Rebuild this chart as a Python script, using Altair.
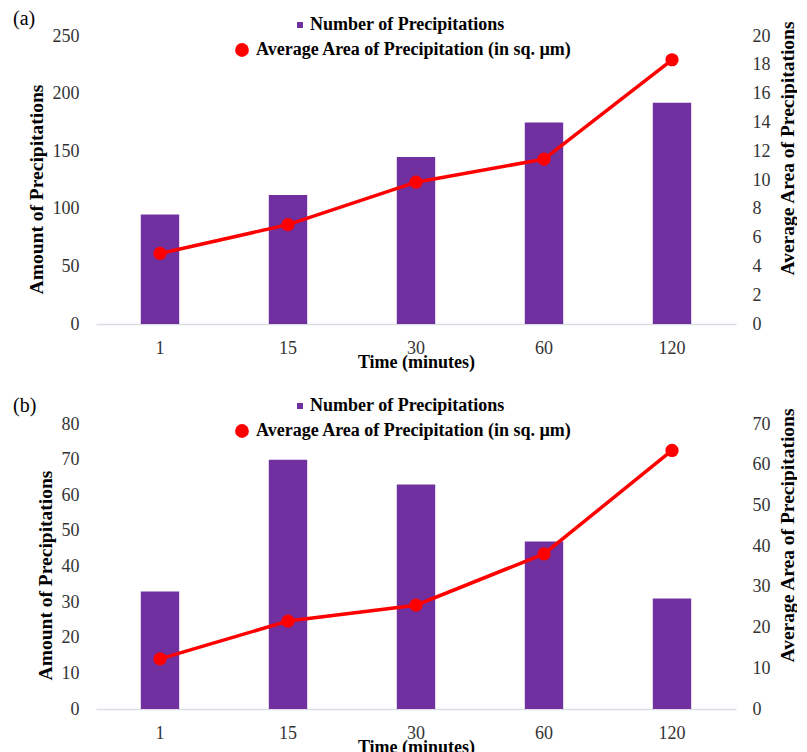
import altair as alt
import pandas as pd

times = ["1", "15", "30", "60", "120"]

count_a = [95, 112, 145, 175, 192]
area_a = [4.9, 6.9, 9.85, 11.45, 18.35]

count_b = [33, 70, 63, 47, 31]
area_b = [12.3, 21.6, 25.5, 38.1, 63.5]

bar_label = "Number of Precipitations"
line_label = "Average Area of Precipitation (in sq. \u00b5m)"

PURPLE = "#7030A0"
RED = "#FF0000"
FONT = "Liberation Serif"
W = 640


def panel(tag, counts, areas, ymax_l, step_l, ymax_r, step_r, h, leg1_y, leg2_y, tdy):
    df = pd.DataFrame({
        "time": times,
        "count": counts,
        "area": areas,
        "s1": [bar_label] * len(times),
        "s2": [line_label] * len(times),
    })
    xenc = alt.X(
        "time:N", sort=times,
        scale=alt.Scale(paddingInner=0.7, paddingOuter=0.35),
        axis=alt.Axis(
            title="Time (minutes)", labelAngle=0, labelPadding=15, ticks=False,
            domainColor="#D9DEE6", domainWidth=1.5, titleY=38, titleBaseline="middle",
            titleFontSize=18,
        ),
    )
    base = alt.Chart(df)
    bars = base.mark_bar().encode(
        x=xenc,
        y=alt.Y(
            "count:Q",
            scale=alt.Scale(domain=[0, ymax_l]),
            axis=alt.Axis(
                title="Amount of Precipitations", values=list(range(0, ymax_l + 1, step_l)),
                grid=False, domain=False, ticks=False, labelPadding=17, titlePadding=6,
                titleY=round(0.53 * h),
            ),
        ),
        color=alt.Color(
            "s1:N",
            scale=alt.Scale(domain=[bar_label], range=[PURPLE]),
            legend=alt.Legend(
                title=None, orient="none", legendX=195, legendY=leg1_y,
                symbolType="square", symbolSize=36, labelOffset=1, padding=0, labelLimit=500,
                labelFont=FONT, labelFontSize=18, labelFontWeight="bold", labelColor="#000000",
            ),
        ),
    )
    yr_axis = alt.Axis(
        title="Average Area of Precipitations", orient="right",
        values=[v for v in range(0, ymax_r + 1, step_r)],
        grid=False, domain=False, ticks=False, labelPadding=16, titlePadding=27,
        titleY=round(0.39 * h), titleAngle=270, titleAlign="center", titleLimit=400,
    )
    line = base.mark_line(color=RED, strokeWidth=3.5).encode(
        x=xenc,
        y=alt.Y("area:Q", scale=alt.Scale(domain=[0, ymax_r]), axis=yr_axis),
    )
    pts = base.mark_circle(size=175, opacity=1).encode(
        x=xenc,
        y=alt.Y("area:Q", scale=alt.Scale(domain=[0, ymax_r]), axis=yr_axis),
        color=alt.Color(
            "s2:N",
            scale=alt.Scale(domain=[line_label], range=[RED]),
            legend=alt.Legend(
                title=None, orient="none", legendX=137, legendY=leg2_y,
                symbolType="circle", symbolSize=190, labelOffset=5, padding=0, labelLimit=500,
                labelFont=FONT, labelFontSize=18, labelFontWeight="bold", labelColor="#000000",
            ),
        ),
    )
    right = alt.layer(line, pts)
    return alt.layer(bars, right).resolve_scale(y="independent", color="independent").properties(
        width=W, height=h,
        title=alt.TitleParams(
            tag, anchor="start", frame="group", dx=-83, dy=tdy, offset=3, font=FONT,
            fontSize=20, fontWeight="normal", color="#000000",
        ),
    )


pa = panel("(a)", count_a, area_a, 250, 50, 20, 2, 288, -20, 5, 16)
pb = panel("(b)", count_b, area_b, 80, 10, 70, 10, 285, -27, -2, 22)

chart = alt.vconcat(pa, pb, spacing=25).properties(
    padding={"left": 5, "top": 1, "right": 0, "bottom": 0}
).configure_view(stroke=None).configure_axis(
    labelFont=FONT, labelFontSize=18, labelColor="#333333",
    titleFont=FONT, titleFontSize=19.5, titleFontWeight="bold", titleColor="#000000",
)

chart.save("out.html", embed_options={"renderer": "svg", "actions": False})
